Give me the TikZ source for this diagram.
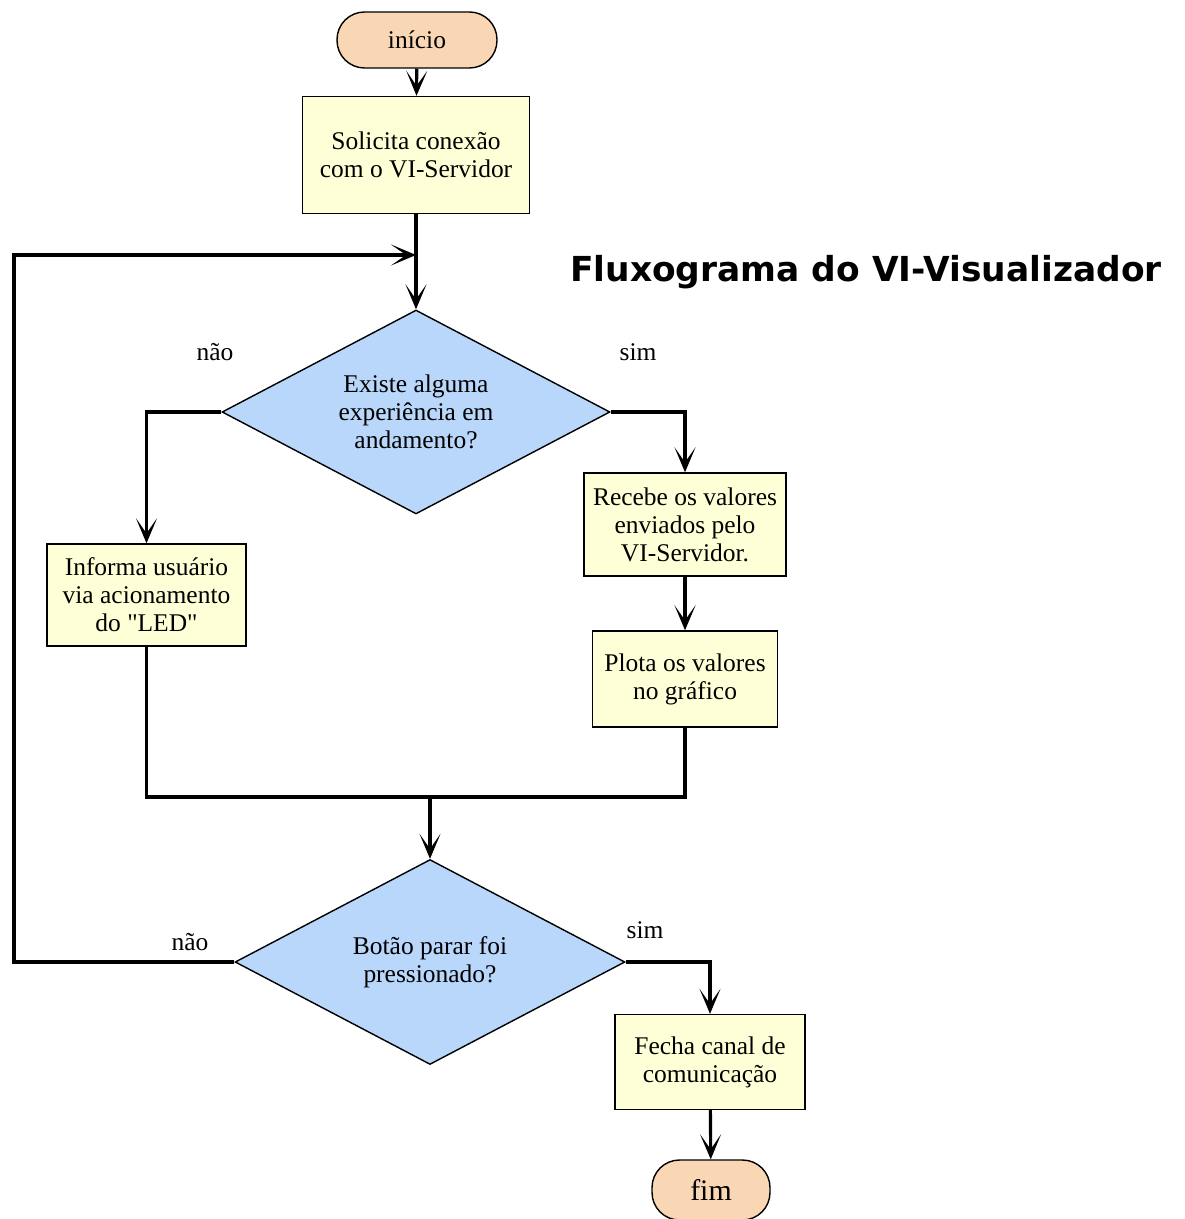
\documentclass[tikz,border=0pt]{standalone}
\usepackage{fontspec}
\setmainfont{Liberation Serif}
\newfontfamily\titlefont{DejaVu Sans}
\usetikzlibrary{shapes.geometric,arrows.meta}

\definecolor{pillfill}{RGB}{250,215,180}
\definecolor{boxfill}{RGB}{255,255,215}
\definecolor{askfill}{RGB}{185,215,250}

\tikzset{
  term/.style={draw, fill=pillfill, rounded corners=0.55cm, line width=0.8pt, inner sep=0pt},
  task/.style={draw, fill=boxfill, line width=0.8pt, align=center, inner sep=0pt},
  ask/.style={draw, diamond, fill=askfill, line width=0.8pt, align=center, inner sep=0pt, aspect=1.9},
  flow/.style={line width=1.8pt},
  arr/.style={flow, -{Stealth[length=5mm, width=4.2mm, inset=3mm]}},
  tag/.style={font=\fontsize{14.5}{16}\selectfont}
}

\begin{document}
\begin{tikzpicture}[x=0.02cm, y=-0.02cm, font=\fontsize{14.5}{16}\selectfont]
\useasboundingbox (0,0) rectangle (1185,1219);

\node[term, minimum width=3.2cm, minimum height=1.12cm] (inicio) at (417,40) {início};
\node[task, minimum width=4.54cm, minimum height=2.34cm] (conecta) at (416,155) {Solicita conexão\\com o VI-Servidor};

\node[font=\titlefont\bfseries\fontsize{19.6}{24}\selectfont] (titulo) at (866,272) {Fluxograma do VI-Visualizador};

\node[ask, minimum width=7.76cm, minimum height=4.08cm] (exp) at (416,412) {Existe alguma\\experiência em\\andamento?};
\node[tag] (expnao) at (215,352) {não};
\node[tag] (expsim) at (638,352) {sim};

\node[task, minimum width=3.98cm, minimum height=2.04cm] (led) at (146.5,595) {Informa usuário\\via acionamento\\do \textquotedbl LED\textquotedbl};
\node[task, minimum width=4.04cm, minimum height=2.06cm] (recebe) at (685,524.5) {Recebe os valores\\enviados pelo\\VI-Servidor.};
\node[task, minimum width=3.7cm, minimum height=1.92cm] (plota) at (685,679) {Plota os valores\\no gráfico};

\node[ask, minimum width=7.8cm, minimum height=4.1cm] (parar) at (430,962) {Botão parar foi\\pressionado?};
\node[tag] (pararnao) at (190,942) {não};
\node[tag] (pararsim) at (645,930) {sim};

\node[task, minimum width=3.8cm, minimum height=1.9cm] (fecha) at (710,1062) {Fecha canal de\\comunicação};
\node[term, minimum width=2.36cm, minimum height=1.2cm, font=\fontsize{17}{20}\selectfont] (fim) at (711,1190) {fim};

\coordinate (volta) at (14,255);
\coordinate (entra) at (416,255);
\coordinate (junta) at (430,797);

% fluxo principal
\draw[arr] (inicio) -- (conecta);
\draw[arr] (conecta) -- (exp);
\draw[arr] (parar.west) -| (volta) -- (entra);

\draw[arr] (exp.west) -| (led.north);
\draw[arr] (exp.east) -| (recebe.north);
\draw[arr] (recebe) -- (plota);

\draw[flow] (led.south) |- (junta);
\draw[flow] (plota.south) |- (junta);
\draw[arr] (junta) -- (parar.north);

\draw[arr] (parar.east) -| (fecha.north);
\draw[arr] (fecha) -- (fim);

\end{tikzpicture}
\end{document}
